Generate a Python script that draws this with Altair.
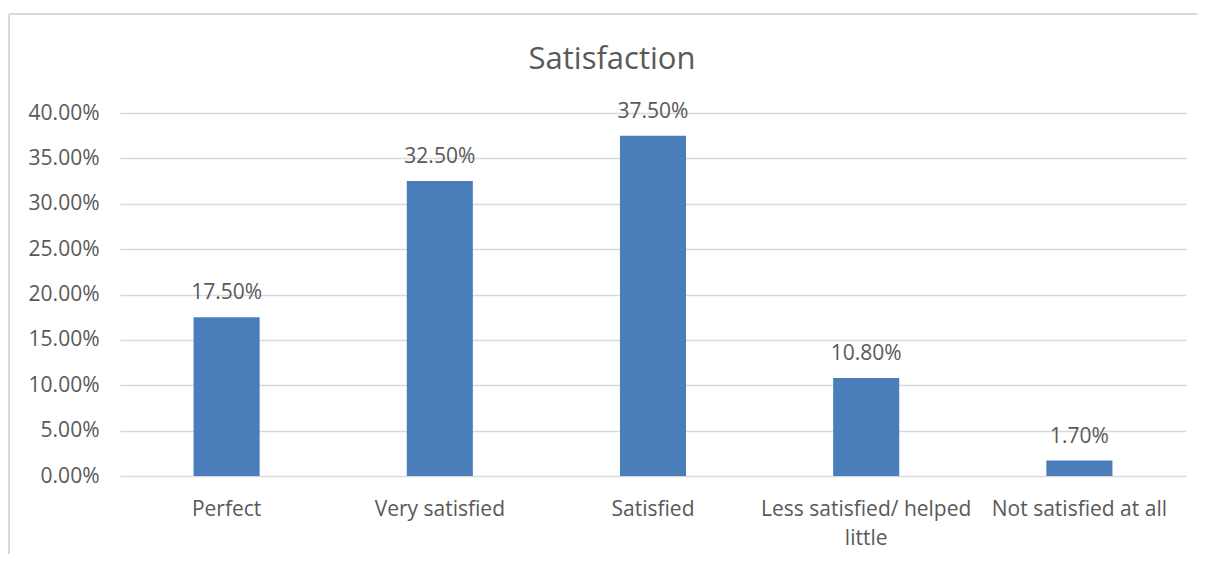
import altair as alt
import pandas as pd

categories = ["Perfect", "Very satisfied", "Satisfied", "Less satisfied/ helped little", "Not satisfied at all"]
values = [0.175, 0.325, 0.375, 0.108, 0.017]
y_ticks = [0, 0.05, 0.10, 0.15, 0.20, 0.25, 0.30, 0.35, 0.40]

df = pd.DataFrame({"category": categories, "value": values})

FONT = "Open Sans"
GRAY = "#595959"
LINE = "#d9d9d9"

W, H = 1066, 363

x_enc = alt.X(
    "category:N", sort=categories, title=None,
    scale=alt.Scale(paddingInner=0.69, paddingOuter=0.345),
    axis=alt.Axis(
        labelAngle=0, domain=False, ticks=False, grid=False, labelPadding=22,
        labelFontSize=21, labelColor=GRAY, labelFont=FONT, labelLineHeight=29,
        labelExpr="datum.value == 'Less satisfied/ helped little' ? ['Less satisfied/ helped', 'little'] : datum.value",
        labelLimit=300,
    ),
)
y_enc = alt.Y(
    "value:Q", title=None,
    scale=alt.Scale(domain=[0, 0.4], nice=False),
    axis=alt.Axis(
        values=y_ticks, format=".2%", domain=False, ticks=False,
        labelPadding=21, labelFontSize=21, labelColor=GRAY, labelFont=FONT,
        gridColor=LINE, gridWidth=1.3,
    ),
)

bars = alt.Chart(df).mark_bar(color="#4a7ebb").encode(x=x_enc, y=y_enc)
labels = alt.Chart(df).mark_text(
    baseline="alphabetic", dy=-18, fontSize=21, color=GRAY, font=FONT
).encode(x=alt.X("category:N", sort=categories), y="value:Q", text=alt.Text("value:Q", format=".2%"))

title = alt.Chart(df.head(1)).mark_text(
    fontSize=31, color=GRAY, font=FONT, baseline="middle", align="center"
).encode(x=alt.value(492), y=alt.value(-53), text=alt.value("Satisfaction"))

border_top = alt.Chart(df.head(1)).mark_rule(color=LINE, strokeWidth=2).encode(
    x=alt.value(-111), x2=alt.value(W + 12), y=alt.value(-99)
)
border_left = alt.Chart(df.head(1)).mark_rule(color=LINE, strokeWidth=2).encode(
    x=alt.value(-111), y=alt.value(-99), y2=alt.value(H + 80)
)

chart = alt.layer(border_top, border_left, bars, labels, title).properties(
    width=W, height=H,
    background="white",
    autosize=alt.AutoSizeParams(type="none"),
    padding={"left": 112, "top": 105, "right": 11, "bottom": 78},
).configure_view(stroke="transparent", strokeWidth=0)

chart.save("out.html", embed_options={"renderer": "svg", "actions": False})
